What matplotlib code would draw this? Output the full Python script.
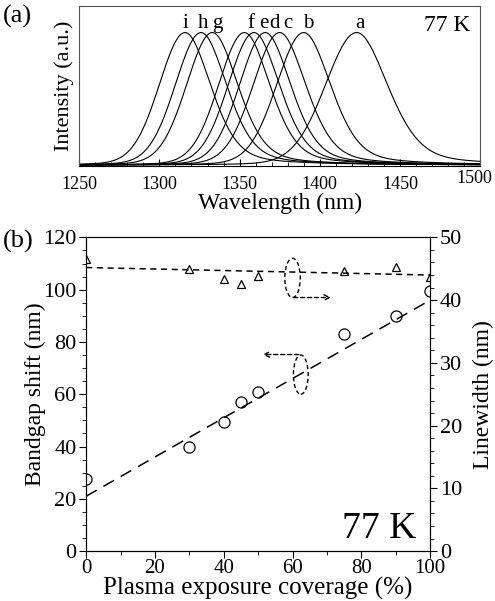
import matplotlib
matplotlib.use('Agg')
import matplotlib.pyplot as plt
import numpy as np
from matplotlib.patches import Ellipse
from matplotlib.transforms import ScaledTranslation

plt.rcParams['font.family'] = ['Liberation Serif', 'DejaVu Serif']
plt.rcParams['mathtext.fontset'] = 'stix'

# === (a) PL spectra at 77 K: peak centre and FWHM of each curve ===
peak_labels = ['a', 'b', 'c', 'd', 'e', 'f', 'g', 'h', 'i']
peak_centers = [1423, 1390, 1375, 1366, 1359, 1353, 1333, 1326, 1316]
peak_fwhm = [46, 40, 39, 38, 38, 38, 38, 38, 38]
label_pos = [1425, 1393, 1380, 1372, 1365, 1357, 1336, 1327, 1316]

# === (b) bandgap shift and linewidth vs plasma exposure coverage ===
coverage = [0, 30, 40, 45, 50, 75, 90, 100]
bandgap_shift = [27.5, 40, 49.5, 57, 61, 83, 90, 99.5]
linewidth = [46.5, 45.0, 43.4, 42.5, 43.8, 44.6, 45.3, 43.7]
shift_fit = [21, 96]        # line end points at 0 and 100 %
width_fit = [45.2, 44.0]


def spectrum(wl, c, w):
    # pseudo-Voigt, heavier tail on the long-wavelength side
    g = np.exp(-4 * np.log(2) * ((wl - c) / w) ** 2)
    l = 1.0 / (1 + (2 * (wl - c) / w) ** 2)
    eta = np.where(wl > c, 0.35, 0.1)
    return (1 - eta) * g + eta * l


fig = plt.figure(figsize=(4.95, 6.01), dpi=100)

# ---- panel (a) ----
ax1 = fig.add_axes([0.160, 0.724, 0.810, 0.266])
wl = np.linspace(1250, 1500, 600)
for c, w in zip(peak_centers, peak_fwhm):
    ax1.plot(wl, spectrum(wl, c, w), color='black', lw=0.8)
for lab, x in zip(peak_labels, label_pos):
    ax1.text(x, 1.035, lab, ha='center', va='baseline', fontsize=15)
ax1.text(0.975, 0.845, '77 K', transform=ax1.transAxes, ha='right', va='baseline', fontsize=17)
ax1.set_xlim(1250, 1500)
ax1.set_ylim(-0.005, 1.2)
ax1.set_xticks(range(1250, 1501, 50))
ax1.set_xticks(range(1250, 1501, 10), minor=True)
ax1.set_yticks([])
ax1.tick_params(axis='x', which='major', direction='in', length=5, labelsize=13, pad=7)
ax1.tick_params(axis='x', which='minor', direction='in', length=3)
# the last label sits a little higher and further left in the original
lbl = ax1.get_xticklabels()[-1]
lbl.set_transform(lbl.get_transform() + ScaledTranslation(-4 / 72, 4 / 72, fig.dpi_scale_trans))
for s in ax1.spines.values():
    s.set_color('#555555')
ax1.spines['bottom'].set_color('black')
ax1.set_xlabel('Wavelength (nm)', fontsize=17, labelpad=0)
ax1.set_ylabel('Intensity (a.u.)', fontsize=16, labelpad=4)
fig.text(0.005, 0.972, '(a)', fontsize=19, va='center')

# ---- panel (b) ----
ax = fig.add_axes([0.174, 0.083, 0.695, 0.522])
ax2 = ax.twinx()
ax.plot(coverage, bandgap_shift, 'o', mfc='none', mec='black', ms=8, mew=0.9)
ax.plot([0, 100], shift_fit, color='black', lw=1.1, dashes=(8, 5))
ax2.plot(coverage, linewidth, '^', mfc='none', mec='black', ms=6, mew=0.9)
ax2.plot([0, 100], width_fit, color='black', lw=1.1, dashes=(4, 3))

ax.add_patch(Ellipse((60, 104.5), 4.5, 15, fill=False, ls=(0, (3, 2)), lw=1, color='black'))
ax.annotate('', xy=(72, 97), xytext=(59.5, 97),
            arrowprops=dict(arrowstyle='->', ls=(0, (3, 2)), lw=1, color='black'))
ax.add_patch(Ellipse((62.4, 67.5), 4.3, 15, fill=False, ls=(0, (3, 2)), lw=1, color='black'))
ax.annotate('', xy=(50.5, 75.2), xytext=(62.6, 75.2),
            arrowprops=dict(arrowstyle='->', ls=(0, (3, 2)), lw=1, color='black'))

ax.text(96, 5, '77 K', ha='right', va='baseline', fontsize=27)

ax.set_xlim(0, 100)
ax.set_ylim(0, 120)
ax2.set_ylim(0, 50)
ax.set_xticks(range(0, 101, 20))
ax.set_xticks(range(0, 101, 10), minor=True)
ax.set_yticks(range(0, 121, 20))
ax.set_yticks(range(0, 121, 5), minor=True)
ax2.set_yticks(range(0, 51, 10))
ax2.set_yticks(range(0, 51, 2), minor=True)
for a in (ax, ax2):
    a.tick_params(which='major', direction='out', length=5, labelsize=16, pad=2)
    a.tick_params(which='minor', direction='out', length=3)
ax.tick_params(axis='x', labelsize=15, pad=1)
ax.set_xlabel('Plasma exposure coverage (%)', fontsize=18, labelpad=-1)
ax.set_ylabel('Bandgap shift (nm)', fontsize=17, labelpad=-2)
ax2.set_ylabel('Linewidth (nm)', fontsize=17, labelpad=8)
fig.text(0.005, 0.598, '(b)', fontsize=19, va='center')

fig.savefig('out.png', dpi=100)
